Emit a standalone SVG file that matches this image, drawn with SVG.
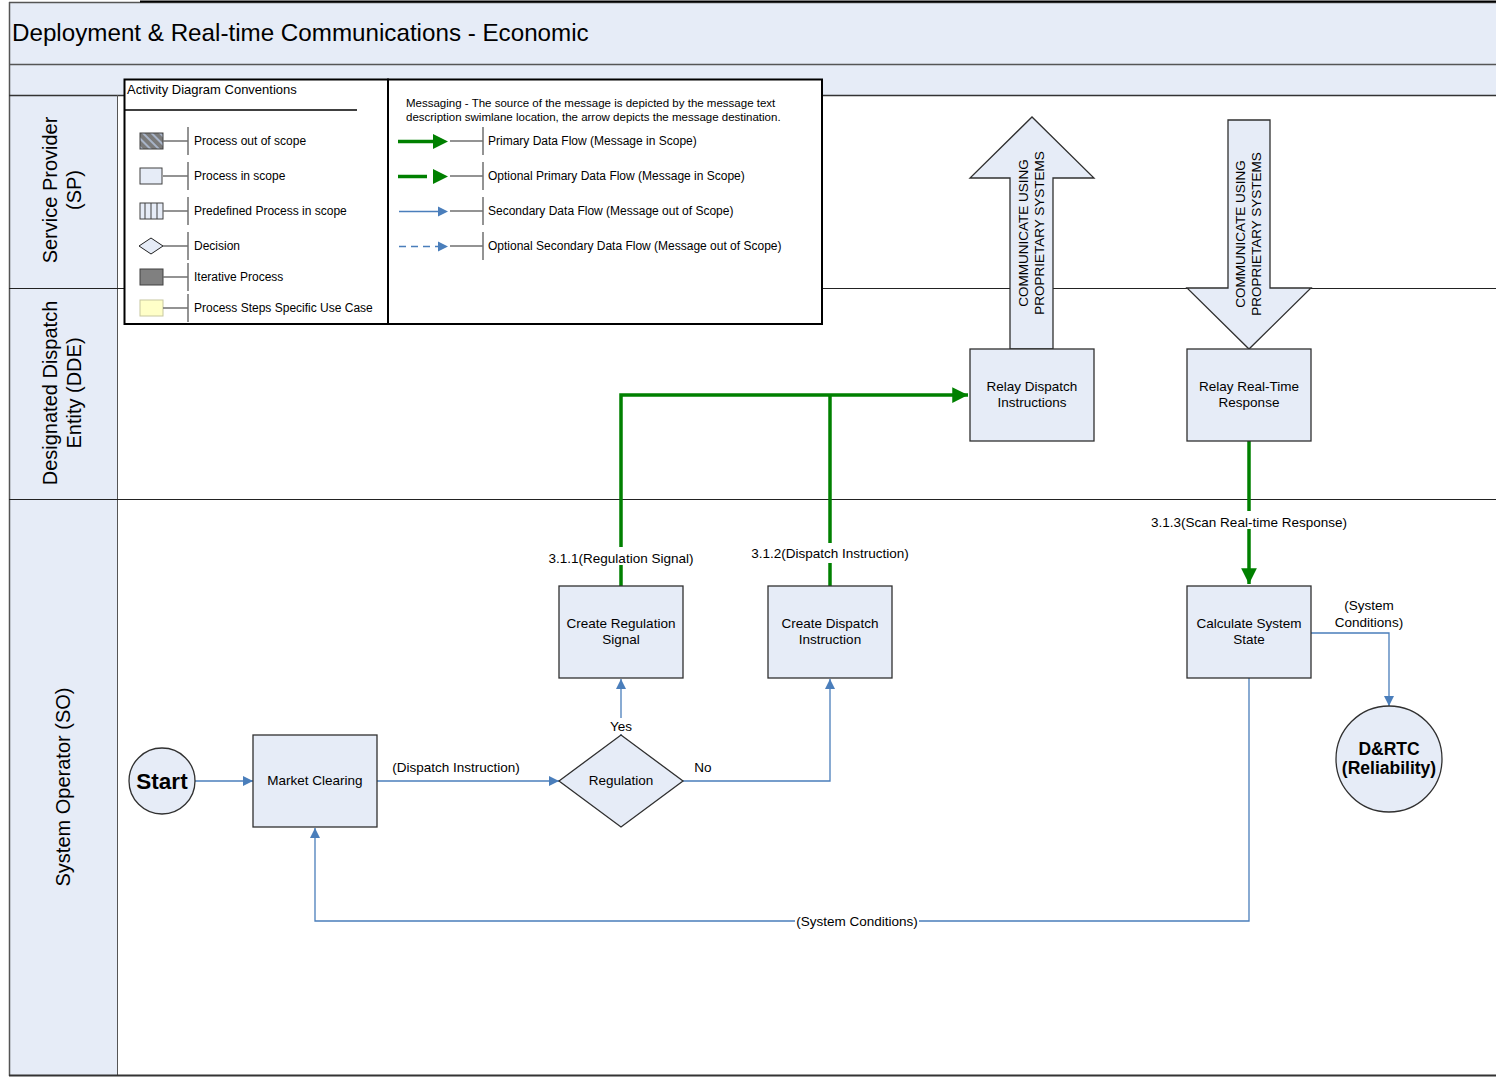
<svg xmlns="http://www.w3.org/2000/svg" width="1496" height="1077" viewBox="0 0 1496 1077">
<defs>
<style>
text{font-family:"Liberation Sans",Arial,sans-serif;fill:#000}
.node rect,.node polygon,.node circle{fill:#e6ecf7;stroke:#303030;stroke-width:1.3}
.nt{font-size:13.5px;text-anchor:middle}
.lbl{font-size:13.5px;text-anchor:middle}
.lane{font-size:20px;text-anchor:middle}
.lg{font-size:12px}
.green{fill:none;stroke:#008000;stroke-width:3.5}
.blue{fill:none;stroke:#4a7ebb;stroke-width:1.3}
.tick{stroke:#707070;stroke-width:1.5;fill:none}
</style>
<marker id="ga" viewBox="0 0 10 10" refX="10" refY="5" markerWidth="4.5" markerHeight="4.5" markerUnits="strokeWidth" orient="auto"><path d="M0,0 L10,5 L0,10 z" fill="#008000"/></marker>
<marker id="ba" viewBox="0 0 10 10" refX="10" refY="5" markerWidth="8" markerHeight="8" markerUnits="strokeWidth" orient="auto"><path d="M0,0 L10,5 L0,10 z" fill="#4a7ebb"/></marker>
<pattern id="hatch" width="6" height="6" patternUnits="userSpaceOnUse" patternTransform="rotate(-45)"><rect width="6" height="6" fill="#7a7a7a"/><rect width="2" height="6" fill="#a8b4c8"/></pattern>
</defs>

<!-- background frame -->
<g id="frame">
<rect x="9" y="3" width="1487" height="61" fill="#e6ecf7"/>
<rect x="9" y="64" width="1487" height="31" fill="#e6ecf7"/>
<rect x="9" y="95" width="109" height="980" fill="#e6ecf7"/>
<rect x="118" y="95" width="1378" height="980" fill="#fff"/>
<line x1="9" y1="2.5" x2="1496" y2="2.5" stroke="#555" stroke-width="1.5"/>
<line x1="140" y1="1.5" x2="1496" y2="1.5" stroke="#000" stroke-width="2"/>
<line x1="9.5" y1="2" x2="9.5" y2="1076" stroke="#555" stroke-width="1.5"/>
<line x1="9" y1="64.5" x2="1496" y2="64.5" stroke="#555" stroke-width="1.5"/>
<line x1="9" y1="95.5" x2="1496" y2="95.5" stroke="#333" stroke-width="1.5"/>
<line x1="117.5" y1="95" x2="117.5" y2="1076" stroke="#555" stroke-width="1"/>
<line x1="9" y1="288.5" x2="1496" y2="288.5" stroke="#222" stroke-width="1.2"/>
<line x1="9" y1="499.5" x2="1496" y2="499.5" stroke="#222" stroke-width="1.2"/>
<line x1="9" y1="1075.5" x2="1496" y2="1075.5" stroke="#333" stroke-width="2"/>
<text x="12" y="41" font-size="24.2">Deployment &amp; Real-time Communications - Economic</text>
<text class="lane" transform="translate(57,190) rotate(-90)"><tspan x="0" y="0">Service Provider</tspan><tspan x="0" y="24">(SP)</tspan></text>
<text class="lane" transform="translate(57,393) rotate(-90)"><tspan x="0" y="0">Designated Dispatch</tspan><tspan x="0" y="24">Entity (DDE)</tspan></text>
<text class="lane" transform="translate(70,787) rotate(-90)">System Operator (SO)</text>
</g>

<!-- legend -->
<g id="legend">
<rect x="124.5" y="79.5" width="263.5" height="244.5" fill="#fff" stroke="#000" stroke-width="2"/>
<rect x="388" y="79.5" width="434" height="244.5" fill="#fff" stroke="#000" stroke-width="2"/>
<text x="127" y="94" font-size="13">Activity Diagram Conventions</text>
<line x1="124" y1="110" x2="357" y2="110" stroke="#000" stroke-width="1.5"/>
<rect x="140" y="133" width="23" height="16" fill="url(#hatch)" stroke="#404040"/>
<rect x="140" y="168" width="22" height="16" fill="#e6ecf7" stroke="#404040"/>
<rect x="140" y="203" width="23" height="16" fill="#e6ecf7" stroke="#404040"/>
<line x1="145" y1="203" x2="145" y2="219" stroke="#404040"/>
<line x1="151" y1="203" x2="151" y2="219" stroke="#404040"/>
<line x1="157" y1="203" x2="157" y2="219" stroke="#404040"/>
<polygon points="139,246 151,238 163,246 151,254" fill="#e6ecf7" stroke="#202020"/>
<rect x="140" y="269" width="23" height="16" fill="#808080" stroke="#404040"/>
<rect x="140" y="300" width="23" height="16" fill="#ffffc8" stroke="#c8c8a0"/>
<g class="tick">
<path d="M163,141H188M188,127V155"/>
<path d="M163,176H188M188,162V190"/>
<path d="M163,211H188M188,197V225"/>
<path d="M163,246H188M188,232V260"/>
<path d="M163,277H188M188,263V291"/>
<path d="M163,308H188M188,294V322"/>
<path d="M450,141H483M483,127V155"/>
<path d="M450,176H483M483,162V190"/>
<path d="M450,211H483M483,197V225"/>
<path d="M450,246H483M483,232V260"/>
</g>
<text class="lg" x="194" y="145">Process out of scope</text>
<text class="lg" x="194" y="180">Process in scope</text>
<text class="lg" x="194" y="215">Predefined Process in scope</text>
<text class="lg" x="194" y="250">Decision</text>
<text class="lg" x="194" y="281">Iterative Process</text>
<text class="lg" x="194" y="312">Process Steps Specific Use Case</text>
<text font-size="11.5" x="406" y="107">Messaging - The source of the message is depicted by the message text</text>
<text font-size="11.5" x="406" y="121">description swimlane location, the arrow depicts the message destination.</text>
<line x1="398" y1="141.5" x2="434" y2="141.5" stroke="#008000" stroke-width="3.5"/>
<polygon points="433,134 448,141.5 433,149" fill="#008000"/>
<line x1="398" y1="176.5" x2="427" y2="176.5" stroke="#008000" stroke-width="3.5"/>
<polygon points="433,169 448,176.5 433,184" fill="#008000"/>
<line x1="399" y1="211.5" x2="440" y2="211.5" stroke="#4a7ebb" stroke-width="1.3"/>
<polygon points="438,206.5 448,211.5 438,216.5" fill="#4a7ebb"/>
<line x1="399" y1="246.5" x2="440" y2="246.5" stroke="#4a7ebb" stroke-width="1.3" stroke-dasharray="7,5"/>
<polygon points="438,241.5 448,246.5 438,251.5" fill="#4a7ebb"/>
<text class="lg" x="488" y="145">Primary Data Flow (Message in Scope)</text>
<text class="lg" x="488" y="180">Optional Primary Data Flow (Message in Scope)</text>
<text class="lg" x="488" y="215">Secondary Data Flow (Message out of Scope)</text>
<text class="lg" x="488" y="250">Optional Secondary Data Flow (Message out of Scope)</text>
</g>

<!-- connectors -->
<g id="connectors">
<path class="green" d="M621,586V395H968" marker-end="url(#ga)"/>
<path class="green" d="M830,586V395"/>
<path class="green" d="M1249,441V584" marker-end="url(#ga)"/>
<path class="blue" d="M195,781H253" marker-end="url(#ba)"/>
<path class="blue" d="M377,781H559" marker-end="url(#ba)"/>
<path class="blue" d="M621,735V679" marker-end="url(#ba)"/>
<path class="blue" d="M683,781H830V679" marker-end="url(#ba)"/>
<path class="blue" d="M1311,633H1389V706" marker-end="url(#ba)"/>
<path class="blue" d="M1249,678V921H315V828" marker-end="url(#ba)"/>
<rect x="544" y="547" width="154" height="18" fill="#fff"/>
<text class="lbl" x="621" y="563">3.1.1(Regulation Signal)</text>
<rect x="748" y="543" width="164" height="20" fill="#fff"/>
<text class="lbl" x="830" y="558">3.1.2(Dispatch Instruction)</text>
<rect x="1147" y="511" width="204" height="18" fill="#fff"/>
<text class="lbl" x="1249" y="527">3.1.3(Scan Real-time Response)</text>
<text class="lbl" x="456" y="772">(Dispatch Instruction)</text>
<rect x="607" y="718" width="28" height="16" fill="#fff"/>
<text class="lbl" x="621" y="731">Yes</text>
<text class="lbl" x="703" y="772">No</text>
<text class="lbl" x="1369" y="610">(System</text>
<text class="lbl" x="1369" y="627">Conditions)</text>
<rect x="795" y="912" width="124" height="18" fill="#fff"/>
<text class="lbl" x="857" y="926">(System Conditions)</text>
</g>

<!-- big arrows -->
<g id="arrow-up" class="node">
<polygon points="1010,349 1010,178 970,178 1032,117 1094,178 1053,178 1053,349"/>
<text class="nt" transform="translate(1032,233) rotate(-90)"><tspan x="0" y="-4">COMMUNICATE USING</tspan><tspan x="0" y="12">PROPRIETARY SYSTEMS</tspan></text>
</g>
<g id="arrow-down" class="node">
<polygon points="1228,120 1270,120 1270,288 1311,288 1249,349 1187,288 1228,288"/>
<text class="nt" transform="translate(1249,234) rotate(-90)"><tspan x="0" y="-4">COMMUNICATE USING</tspan><tspan x="0" y="12">PROPRIETARY SYSTEMS</tspan></text>
</g>

<!-- nodes -->
<g id="relay-dispatch" class="node"><rect x="970" y="349" width="124" height="92"/><text class="nt" x="1032" y="391">Relay Dispatch</text><text class="nt" x="1032" y="407">Instructions</text></g>
<g id="relay-realtime" class="node"><rect x="1187" y="349" width="124" height="92"/><text class="nt" x="1249" y="391">Relay Real-Time</text><text class="nt" x="1249" y="407">Response</text></g>
<g id="create-regulation" class="node"><rect x="559" y="586" width="124" height="92"/><text class="nt" x="621" y="628">Create Regulation</text><text class="nt" x="621" y="644">Signal</text></g>
<g id="create-dispatch" class="node"><rect x="768" y="586" width="124" height="92"/><text class="nt" x="830" y="628">Create Dispatch</text><text class="nt" x="830" y="644">Instruction</text></g>
<g id="calculate-state" class="node"><rect x="1187" y="586" width="124" height="92"/><text class="nt" x="1249" y="628">Calculate System</text><text class="nt" x="1249" y="644">State</text></g>
<g id="market-clearing" class="node"><rect x="253" y="735" width="124" height="92"/><text class="nt" x="315" y="785">Market Clearing</text></g>
<g id="regulation" class="node"><polygon points="559,781 621,735 683,781 621,827"/><text class="nt" x="621" y="785">Regulation</text></g>
<g id="start" class="node"><circle cx="162" cy="781" r="33"/><text x="162" y="789" font-size="22.5" font-weight="bold" text-anchor="middle">Start</text></g>
<g id="drtc" class="node"><circle cx="1389" cy="759" r="53"/><text x="1389" y="755" font-size="17.5" font-weight="bold" text-anchor="middle">D&amp;RTC</text><text x="1389" y="774" font-size="17.5" font-weight="bold" text-anchor="middle">(Reliability)</text></g>
</svg>
